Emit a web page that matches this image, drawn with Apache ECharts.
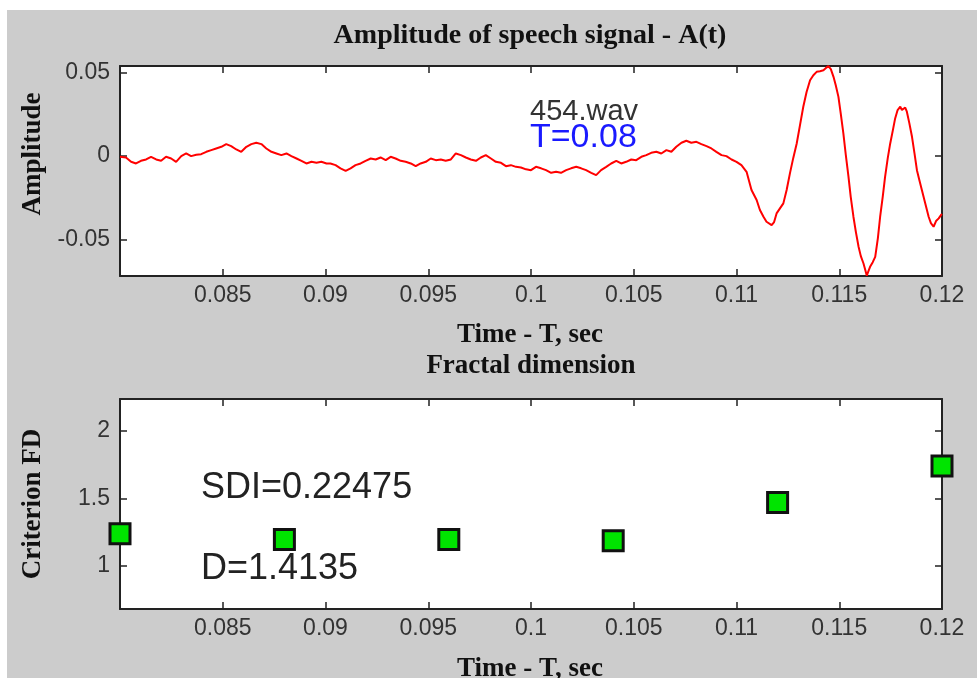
<!DOCTYPE html>
<html><head><meta charset="utf-8">
<script src="https://cdn.jsdelivr.net/npm/echarts@6/dist/echarts.min.js"></script>
<style>
html,body{margin:0;padding:0;background:#ffffff;}
#bg{position:absolute;left:7px;top:10px;width:970px;height:668px;background:#cccccc;}
#chart{position:absolute;left:0;top:0;width:977px;height:678px;}
</style></head><body>
<div id="bg"></div><div id="chart"></div>
<script>
// ---- Data ----
const timeSec = [
0.08000,0.08029,0.08054,0.08078,0.08102,0.08127,0.08151,0.08176,0.08200,0.08224,
0.08249,0.08273,0.08298,0.08322,0.08346,0.08371,0.08395,0.08420,0.08444,0.08468,
0.08493,0.08517,0.08541,0.08566,0.08590,0.08615,0.08639,0.08663,0.08688,0.08712,
0.08737,0.08761,0.08785,0.08810,0.08834,0.08859,0.08883,0.08907,0.08932,0.08956,
0.08980,0.09005,0.09024,0.09049,0.09073,0.09098,0.09122,0.09146,0.09171,0.09195,
0.09220,0.09244,0.09268,0.09293,0.09317,0.09341,0.09366,0.09390,0.09415,0.09439,
0.09463,0.09488,0.09512,0.09537,0.09561,0.09585,0.09610,0.09634,0.09659,0.09683,
0.09707,0.09732,0.09756,0.09780,0.09805,0.09829,0.09854,0.09878,0.09902,0.09927,
0.09951,0.09976,0.10000,0.10024,0.10049,0.10073,0.10098,0.10122,0.10146,0.10171,
0.10195,0.10220,0.10244,0.10268,0.10293,0.10317,0.10341,0.10366,0.10390,0.10415,
0.10439,0.10463,0.10488,0.10512,0.10537,0.10561,0.10585,0.10610,0.10634,0.10659,
0.10683,0.10707,0.10732,0.10756,0.10780,0.10805,0.10829,0.10854,0.10878,0.10902,
0.10927,0.10951,0.10976,0.11000,0.11024,0.11049,0.11073,0.11098,0.11114,0.11132,
0.11146,0.11171,0.11183,0.11195,0.11228,0.11244,0.11260,0.11276,0.11293,0.11309,
0.11325,0.11341,0.11358,0.11374,0.11390,0.11406,0.11423,0.11434,0.11447,0.11459,
0.11472,0.11483,0.11496,0.11507,0.11520,0.11532,0.11545,0.11556,0.11569,0.11581,
0.11594,0.11605,0.11618,0.11627,0.11634,0.11642,0.11650,0.11663,0.11675,0.11688,
0.11699,0.11712,0.11723,0.11736,0.11748,0.11761,0.11772,0.11784,0.11797,0.11805,
0.11813,0.11821,0.11829,0.11841,0.11854,0.11866,0.11878,0.11890,0.11902,0.11918,
0.11935,0.11946,0.11959,0.11971,0.11984,0.11995,0.12000
];
const amplitude = [
-0.0006,-0.0010,-0.0036,-0.0046,-0.0030,-0.0022,-0.0006,-0.0022,-0.0030,-0.0006,
-0.0016,-0.0036,-0.0002,0.0014,-0.0002,0.0006,0.0010,0.0024,0.0034,0.0044,
0.0054,0.0070,0.0058,0.0038,0.0024,0.0054,0.0070,0.0078,0.0070,0.0044,
0.0024,0.0014,0.0004,0.0014,-0.0002,-0.0016,-0.0030,-0.0046,-0.0036,-0.0042,
-0.0036,-0.0046,-0.0046,-0.0056,-0.0075,-0.0090,-0.0075,-0.0056,-0.0046,-0.0030,
-0.0016,-0.0022,-0.0010,-0.0026,-0.0006,-0.0016,-0.0030,-0.0036,-0.0046,-0.0062,
-0.0046,-0.0036,-0.0016,-0.0026,-0.0022,-0.0030,-0.0022,0.0014,0.0004,-0.0010,
-0.0022,-0.0030,-0.0010,0.0004,-0.0016,-0.0036,-0.0042,-0.0062,-0.0056,-0.0066,
-0.0070,-0.0081,-0.0086,-0.0066,-0.0075,-0.0086,-0.0102,-0.0096,-0.0102,-0.0086,
-0.0075,-0.0066,-0.0075,-0.0086,-0.0102,-0.0116,-0.0086,-0.0066,-0.0046,-0.0030,
-0.0046,-0.0036,-0.0022,-0.0026,-0.0006,0.0004,0.0018,0.0024,0.0014,0.0034,
0.0024,0.0054,0.0078,0.0090,0.0078,0.0084,0.0070,0.0058,0.0044,0.0024,
0.0004,-0.0002,-0.0022,-0.0036,-0.0056,-0.0096,-0.0205,-0.0265,-0.0325,-0.0367,
-0.0395,-0.0415,-0.0397,-0.0345,-0.0285,-0.0205,-0.0105,-0.0014,0.0074,0.0184,
0.0294,0.0382,0.0453,0.0483,0.0503,0.0507,0.0513,0.0525,0.0537,0.0519,
0.0473,0.0423,0.0353,0.0256,0.0134,0.0004,-0.0126,-0.0247,-0.0365,-0.0457,
-0.0545,-0.0601,-0.0645,-0.0685,-0.0718,-0.0691,-0.0665,-0.0637,-0.0605,-0.0493,
-0.0365,-0.0241,-0.0126,-0.0014,0.0074,0.0154,0.0224,0.0274,0.0294,0.0274,
0.0274,0.0289,0.0264,0.0196,0.0114,0.0016,-0.0086,-0.0146,-0.0205,-0.0283,
-0.0365,-0.0403,-0.0425,-0.0391,-0.0375,-0.0355,-0.0349
];
const fdTimes = [0.080, 0.088, 0.096, 0.104, 0.112, 0.120];
const fdValues = [1.239, 1.197, 1.197, 1.187, 1.469, 1.740];
const timeTicks = [0.085, 0.09, 0.095, 0.1, 0.105, 0.11, 0.115, 0.12];
const ampTicks = [-0.05, 0, 0.05];
const fdTicks = [1, 1.5, 2];

// ---- Chart ----
const chart = echarts.init(document.getElementById('chart'), null, {renderer: 'canvas'});
const fmt = v => String(Number(Number(v).toFixed(4)));
const lineCol = '#222';
const sansFont = '"Liberation Sans", Arial, sans-serif';
const serifFont = '"Liberation Serif", "Times New Roman", serif';

function xAx(grid, pos, showLabel) {
  return {
    type: 'value', gridIndex: grid, position: pos, min: 0.08, max: 0.12,
    axisLine: {show: true, onZero: false, lineStyle: {color: lineCol, width: 2}},
    axisTick: {show: true, inside: true, length: 7, lineStyle: {color: lineCol, width: 1.5},
               customValues: timeTicks.slice(0, -1)},
    axisLabel: {show: showLabel, customValues: timeTicks, formatter: fmt, margin: 8,
                color: '#333', fontSize: 23, fontFamily: sansFont},
    splitLine: {show: false}
  };
}
function yAx(grid, pos, showLabel, mn, mx, ticks) {
  return {
    type: 'value', gridIndex: grid, position: pos, min: mn, max: mx,
    axisLine: {show: true, onZero: false, lineStyle: {color: lineCol, width: 2}},
    axisTick: {show: true, inside: true, length: 7, lineStyle: {color: lineCol, width: 1.5},
               customValues: ticks},
    axisLabel: {show: showLabel, customValues: ticks, formatter: fmt, margin: 10,
                color: '#333', fontSize: 23, fontFamily: sansFont},
    splitLine: {show: false}
  };
}
function txt(x, y, text, font, fill, align, rot) {
  return {
    type: 'text', x: x, y: y, rotation: rot || 0, z: 100,
    style: {text: text, font: font, fill: fill,
            textAlign: align || 'center', textVerticalAlign: 'middle',
            align: align || 'center', verticalAlign: 'middle'}
  };
}

const option = {
  backgroundColor: 'transparent',
  animation: false,
  grid: [
    {left: 120, top: 66, width: 822, height: 210, show: true, backgroundColor: '#ffffff', borderWidth: 0},
    {left: 120, top: 399, width: 822, height: 210, show: true, backgroundColor: '#ffffff', borderWidth: 0}
  ],
  xAxis: [xAx(0, 'bottom', true), xAx(0, 'top', false), xAx(1, 'bottom', true), xAx(1, 'top', false)],
  yAxis: [
    yAx(0, 'left', true, -0.072, 0.0538, ampTicks), yAx(0, 'right', false, -0.072, 0.0538, ampTicks),
    yAx(1, 'left', true, 0.683, 2.234, fdTicks), yAx(1, 'right', false, 0.683, 2.234, fdTicks)
  ],
  series: [
    {
      type: 'line', xAxisIndex: 0, yAxisIndex: 0,
      data: timeSec.map((t, i) => [t, amplitude[i]]),
      symbol: 'none', showSymbol: false, clip: false,
      lineStyle: {color: '#ff0000', width: 2}
    },
    {
      type: 'scatter', xAxisIndex: 2, yAxisIndex: 2, clip: false, z: 10,
      data: fdTimes.map((t, i) => [t, fdValues[i]]),
      symbol: 'rect', symbolSize: 20,
      itemStyle: {color: '#00e400', borderColor: '#111', borderWidth: 3, opacity: 1}
    }
  ],
  graphic: [
    txt(530, 36, 'Amplitude of speech signal - A(t)', 'bold 28px ' + serifFont, '#111'),
    txt(530, 335, 'Time - T, sec', 'bold 27px ' + serifFont, '#111'),
    txt(531, 366, 'Fractal dimension', 'bold 27px ' + serifFont, '#111'),
    txt(530, 669, 'Time - T, sec', 'bold 27px ' + serifFont, '#111'),
    txt(33, 154, 'Amplitude', 'bold 27px ' + serifFont, '#111', 'center', Math.PI / 2),
    txt(33, 504, 'Criterion FD', 'bold 27px ' + serifFont, '#111', 'center', Math.PI / 2),
    txt(530, 112, '454.wav', '29px ' + sansFont, '#333', 'left'),
    txt(530, 138, 'T=0.08', '34px ' + sansFont, '#1a1aff', 'left'),
    txt(201, 488, 'SDI=0.22475', '36px ' + sansFont, '#222', 'left'),
    txt(201, 569, 'D=1.4135', '36px ' + sansFont, '#222', 'left')
  ]
};
chart.setOption(option);
</script>
</body></html>
